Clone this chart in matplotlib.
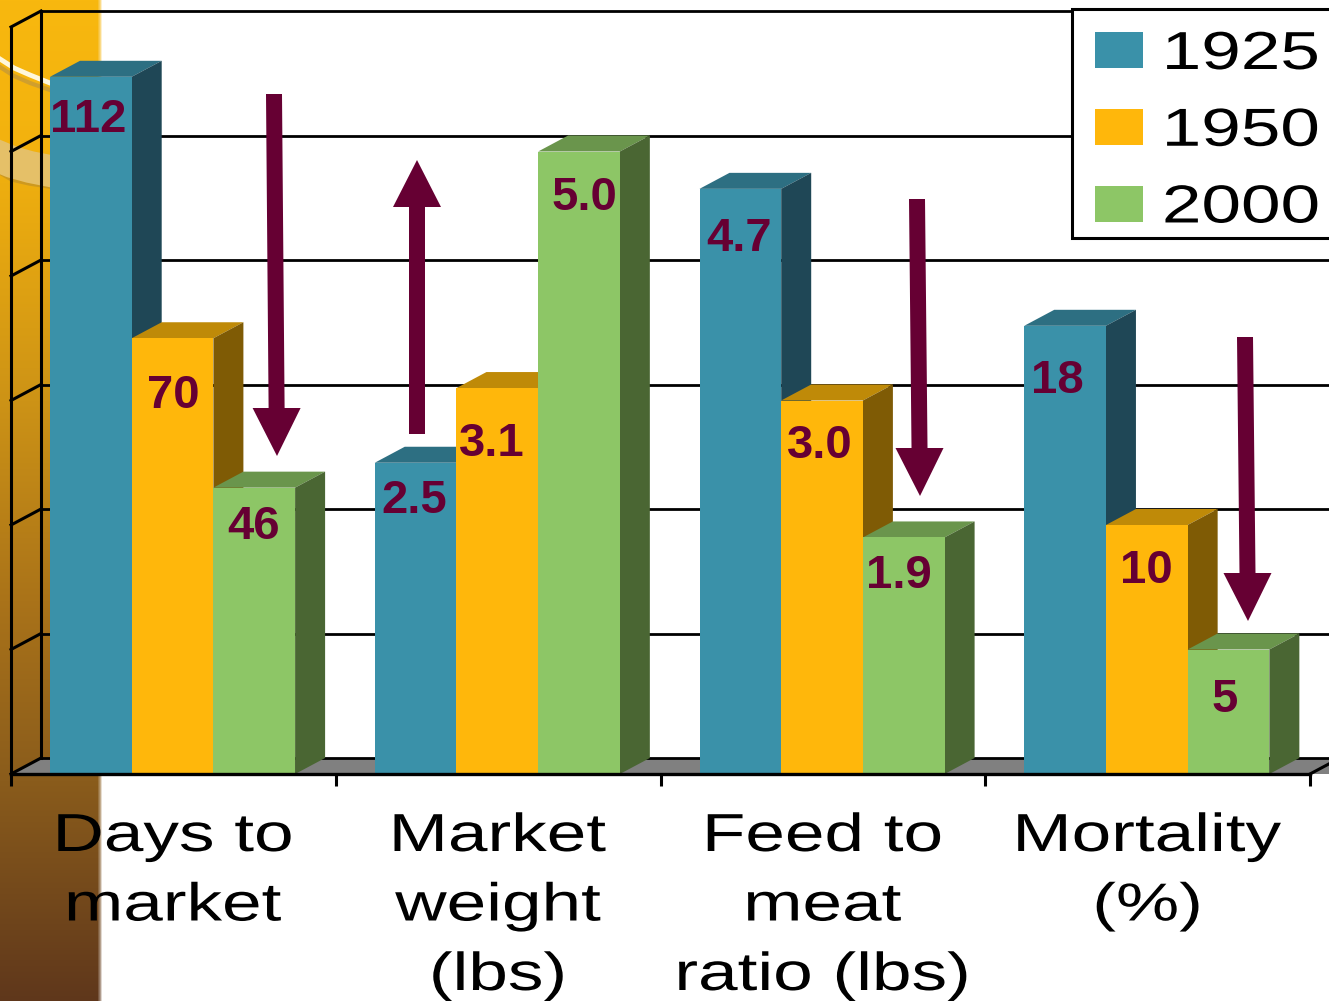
import numpy as np
import matplotlib
matplotlib.use("Agg")
from matplotlib import pyplot as plt
from matplotlib.patches import Patch, Polygon, Rectangle
from matplotlib.patheffects import AbstractPathEffect
from matplotlib.transforms import Affine2D

plt.rcParams['font.family'] = ['Liberation Sans', 'DejaVu Sans']

WIDTH = 1329
HEIGHT = 1001

categories = ["Days to\nmarket", "Market\nweight\n(lbs)", "Feed to\nmeat\nratio (lbs)", "Mortality\n(%)"]
years = ["1925", "1950", "2000"]
values_1925 = [112, 2.5, 4.7, 18]
values_1950 = [70, 3.1, 3.0, 10]
values_2000 = [46, 5.0, 1.9, 5]
# each category is drawn on the shared axis after dividing by this
category_divisor = [20, 1, 1, 5]
label_formats = ["{:.0f}", "{:.1f}", "{:.1f}", "{:.0f}"]

series = [values_1925, values_1950, values_2000]
front_colors = ["#3A91A9", "#FFB70B", "#8DC666"]
top_colors = ["#2D6F82", "#BF8A08", "#6A954C"]
side_colors = ["#1F4756", "#7F5B05", "#4A6633"]
ink = "#660033"

# px per unit on both axes, origin at the front left floor corner
UNIT_X = 324.75
UNIT_Y = 124.5
ORIGIN_X = 11
ORIGIN_Y = 774
DEPTH_X = 30 / UNIT_X
DEPTH_Y = 16 / UNIT_Y
BAR_START = 39 / UNIT_X
BAR_WIDTH = 81.7 / UNIT_X
Y_MAX = 6


class StretchX(AbstractPathEffect):
    """Widen a text line around its own centre."""

    def __init__(self, factor):
        super().__init__()
        self.factor = factor

    def draw_path(self, renderer, gc, tpath, affine, rgbFace=None):
        x0, _, x1, _ = tpath.transformed(affine).get_extents().extents
        mid = (x0 + x1) / 2
        wide = affine + Affine2D().translate(-mid, 0).scale(self.factor, 1).translate(mid, 0)
        renderer.draw_path(gc, tpath, wide, rgbFace)


fig = plt.figure(figsize=(WIDTH / 100, HEIGHT / 100), dpi=100, facecolor="white")

# gold side strip behind the chart
bg = fig.add_axes([0, 0, 102 / WIDTH, 1])
stops_y = [0, 150, 400, 600, 780, 1001]
stops_r = [248, 243, 205, 170, 138, 95]
stops_g = [184, 178, 147, 115, 92, 55]
stops_b = [14, 14, 22, 25, 28, 27]
rows = np.arange(HEIGHT)
strip = np.ones((HEIGHT, 102, 4))
strip[:, :, 0] = (np.interp(rows, stops_y, stops_r) / 255)[:, None]
strip[:, :, 1] = (np.interp(rows, stops_y, stops_g) / 255)[:, None]
strip[:, :, 2] = (np.interp(rows, stops_y, stops_b) / 255)[:, None]
strip[:, 98:, 3] = [0.85, 0.7, 0.5, 0.2]
bg.imshow(strip, aspect="auto", extent=(0, 102, HEIGHT, 0), interpolation="nearest")
bg.plot([0, 12, 30, 50], [172, 179, 183, 186], color="#B98C2A", lw=4, alpha=0.6)
bg.plot([0, 12, 30, 50], [157, 162, 167, 171], color="#E5C068", lw=23)
bg.plot([0, 14, 30, 50], [67, 76, 83, 90], color="#C79A35", lw=3, alpha=0.8)
bg.plot([0, 14, 30, 50], [59, 68, 75, 83], color="#FFF8DC", lw=3.5)
bg.set_xlim(0, 102)
bg.set_ylim(HEIGHT, 0)
bg.axis("off")

ax = fig.add_axes([0, 0, 1, 1])
ax.patch.set_visible(False)
ax.set_xlim(-ORIGIN_X / UNIT_X, (WIDTH - ORIGIN_X) / UNIT_X)
ax.set_ylim(-(HEIGHT - ORIGIN_Y) / UNIT_Y, ORIGIN_Y / UNIT_Y)
x_end = ax.get_xlim()[1]

# floor
ax.add_patch(Polygon([(0, 0), (DEPTH_X, DEPTH_Y), (x_end, DEPTH_Y), (x_end, 0)],
                     facecolor="#808080", edgecolor="none", zorder=1))

# back wall grid and its run along the side wall
for k in range(Y_MAX + 1):
    ax.plot([0, DEPTH_X], [k, k + DEPTH_Y], color="black", lw=2.2, zorder=2)
    ax.plot([DEPTH_X, x_end], [k + DEPTH_Y, k + DEPTH_Y], color="black", lw=2.0, zorder=2)
ax.plot([DEPTH_X, DEPTH_X], [DEPTH_Y, Y_MAX + DEPTH_Y], color="black", lw=2.2, zorder=2)
ax.plot([4, 4 + DEPTH_X], [0, DEPTH_Y], color="black", lw=2.2, zorder=2)

x_pos = np.arange(len(categories))
label_drop = [[43, 38, 50, 55], [58, 56, 46, 46], [39, 46, 39, 50]]
label_shift = [[-3, -1, -1, -8], [1, -5, -2, 0], [-1, 5, -5, -4]]

for s, vals in enumerate(series):
    z = 10 + s
    heights = np.array(vals) / np.array(category_divisor)
    lefts = x_pos + BAR_START + s * BAR_WIDTH
    ax.bar(lefts, heights, BAR_WIDTH, align="edge", color=front_colors[s], zorder=z + 0.2)
    for i, (left, h) in enumerate(zip(lefts, heights)):
        right = left + BAR_WIDTH
        ax.add_patch(Polygon([(left, h), (left + DEPTH_X, h + DEPTH_Y),
                              (right + DEPTH_X, h + DEPTH_Y), (right, h)],
                             facecolor=top_colors[s], edgecolor="none", zorder=z))
        ax.add_patch(Polygon([(right, 0), (right + DEPTH_X, DEPTH_Y),
                              (right + DEPTH_X, h + DEPTH_Y), (right, h)],
                             facecolor=side_colors[s], edgecolor="none", zorder=z))
        ax.text(left + BAR_WIDTH / 2 + label_shift[s][i] / UNIT_X,
                h - label_drop[s][i] / UNIT_Y,
                label_formats[i].format(vals[i]), ha="center", va="center",
                color=ink, fontsize=34, fontweight="bold", zorder=30)

# front floor edge and ticks
for name in ["top", "right"]:
    ax.spines[name].set_visible(False)
ax.spines["bottom"].set_position(("data", 0))
ax.spines["bottom"].set_bounds(0, 4)
ax.spines["bottom"].set_linewidth(2.4)
ax.spines["bottom"].set_zorder(20)
ax.spines["left"].set_position(("data", 0))
ax.spines["left"].set_bounds(0, Y_MAX)
ax.spines["left"].set_linewidth(2.2)
ax.spines["left"].set_zorder(2)
ax.set_yticks([])
ax.set_xticks(range(len(categories) + 1))
ax.tick_params(axis="x", length=8.5, width=2.2, direction="out", labelbottom=False)

for i, name in enumerate(categories):
    ax.text(i + 0.5, -(812 - ORIGIN_Y) / UNIT_Y, name, ha="center", va="top",
            fontsize=38.5, linespacing=1.5, color="black", zorder=30,
            path_effects=[StretchX(1.33)])


def draw_arrow(tail, tip, head_y):
    # block arrow given in pixels from the top left of the figure
    to_display = Affine2D().scale(1, -1).translate(0, HEIGHT)
    tx, ty = tail
    px, py = tip
    bx = tx + (px - tx) * (head_y - ty) / (py - ty)
    pts = [(tx - 8, ty), (tx + 8, ty), (bx + 8, head_y), (bx + 24, head_y), (px, py),
           (bx - 24, head_y), (bx - 8, head_y)]
    ax.add_patch(Polygon(pts, transform=to_display, facecolor=ink, edgecolor="none", zorder=25))


draw_arrow((274, 94), (277, 456), 408)
draw_arrow((417, 434), (417, 160), 207)
draw_arrow((917, 199), (920, 496), 448)
draw_arrow((1245, 337), (1248, 621), 573)

# legend box runs off the right edge of the figure
to_display = Affine2D().scale(1, -1).translate(0, HEIGHT)
ax.add_patch(Rectangle((1072, 9), 270, 229, transform=to_display, facecolor="white",
                       edgecolor="black", lw=2.2, zorder=40))
handles = [Patch(facecolor=c, edgecolor="none") for c in front_colors]
legend = ax.legend(handles, years, loc="upper left", frameon=False,
                   bbox_to_anchor=(1095 / WIDTH, 1 - 30 / HEIGHT), bbox_transform=fig.transFigure,
                   borderaxespad=0, borderpad=0, fontsize=38.5,
                   handlelength=0.9, handleheight=0.67, handletextpad=0.72, labelspacing=0.5)
legend.set_zorder(41)
for txt in legend.get_texts():
    txt.set_path_effects([StretchX(1.33)])

fig.savefig("out.png", dpi=100)
